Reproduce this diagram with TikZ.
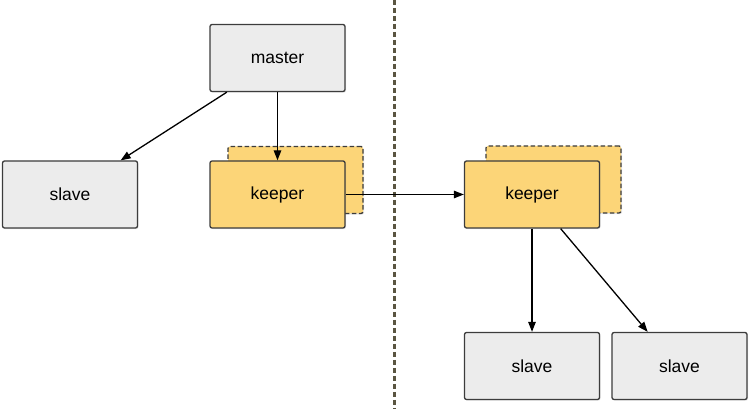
\documentclass[tikz,border=0pt]{standalone}
\usepackage{fontspec}
\setmainfont{Liberation Sans}
\usetikzlibrary{arrows.meta,shadows}

\definecolor{boxgray}{RGB}{236,236,236}
\definecolor{boxline}{RGB}{60,60,60}
\definecolor{keeperfill}{RGB}{252,213,120}
\definecolor{divline}{RGB}{90,85,65}

\begin{document}
\begin{tikzpicture}[x=1pt,y=-1pt,
  box/.style={draw=boxline, line width=1.3pt, rounded corners=2pt, minimum width=135pt,
    minimum height=67pt, inner sep=0pt, font=\fontsize{17.5}{20}\selectfont,
    drop shadow={shadow xshift=1pt, shadow yshift=-1.2pt, opacity=0.18}},
  nodebox/.style={box, fill=boxgray},
  keeperbox/.style={box, fill=keeperfill},
  keeperback/.style={keeperbox, dashed, dash pattern=on 4.5pt off 2.5pt},
  link/.style={draw=black, line width=1.3pt, -{Triangle[length=10pt,width=7.5pt]}}]
\useasboundingbox (0,0) rectangle (750,411);
% divider
\draw[divline, line width=2.6pt, dash pattern=on 5pt off 3pt] (394.5,0)--(394.5,409);
% left side
\node[nodebox] (master) at (277.5,58) {master};
\node[nodebox] (lslave) at (70,194.5) {slave};
\node[keeperback] (lkeeperback) at (295.5,180) {};
\node[keeperbox] (lkeeper) at (277.5,194.5) {keeper};
% right side
\node[keeperback] (rkeeperback) at (553.5,179.5) {};
\node[keeperbox] (rkeeper) at (532,194.5) {keeper};
\node[nodebox] (rslavea) at (532,366) {slave};
\node[nodebox] (rslaveb) at (679.5,366) {slave};
% arrows
\draw[link] (master.214)--(lslave.34);
\draw[link] (master.south)--(lkeeper.north);
\draw[link] (lkeeper.east)--(rkeeper.west);
\draw[link] (rkeeper.south)--(rslavea.north);
\draw[link] (rkeeper.-50)--(rslaveb.133);
\end{tikzpicture}
\end{document}
